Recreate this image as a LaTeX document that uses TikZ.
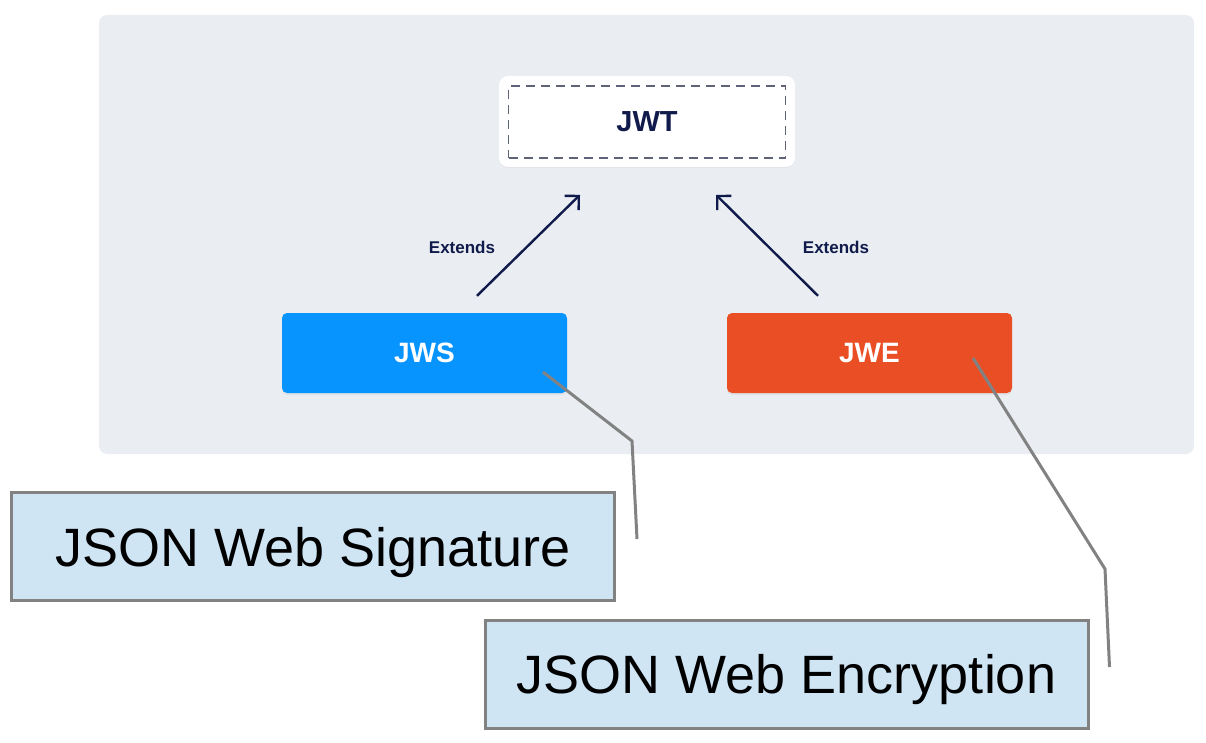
\documentclass[tikz,border=0pt]{standalone}
\usepackage{fontspec}
\setmainfont{Liberation Sans}
\usetikzlibrary{arrows.meta,shadows}

\definecolor{panelgray}{HTML}{EAEEF2}
\definecolor{navy}{HTML}{111B4B}
\definecolor{dashgray}{HTML}{5E6378}
\definecolor{jwsblue}{HTML}{0894FF}
\definecolor{jwered}{HTML}{EA4E25}
\definecolor{noteblue}{HTML}{CFE5F4}
\definecolor{notegray}{HTML}{828282}

\begin{document}
\begin{tikzpicture}[x=1pt,y=-1pt,
  tok/.style={rectangle,rounded corners=5pt,minimum width=285pt,minimum height=80pt,
    text=white,font=\fontsize{28}{30}\selectfont\bfseries,
    drop shadow={opacity=0.10,shadow xshift=0pt,shadow yshift=-2pt}},
  ext/.style={navy,line width=2.4pt,-{Straight Barb[length=10pt,width=20pt]}},
  extlabel/.style={text=navy,font=\fontsize{17}{19}\selectfont\bfseries},
  note/.style={rectangle,draw=notegray,line width=3pt,fill=noteblue,text depth=0pt,
    minimum width=603pt,minimum height=108pt,font=\fontsize{54}{60}\selectfont},
  lead/.style={draw=notegray,line width=3pt}]
\useasboundingbox (0,0) rectangle (1206,743);
\fill [panelgray,rounded corners=8pt] (99,15) rectangle (1194,454);

% top token
\node [rectangle,rounded corners=9pt,fill=white,minimum width=296pt,minimum height=91pt,
  drop shadow={opacity=0.08,shadow xshift=0pt,shadow yshift=-1pt}] (jwtback) at (647,121.5) {};
\node [rectangle,draw=dashgray,dashed,dash pattern=on 9pt off 6pt,line width=1.6pt,
  minimum width=277pt,minimum height=72pt,text=navy,
  font=\fontsize{29}{31}\selectfont\bfseries] (jwt) at (647,122) {JWT};

% the two kinds
\node [tok,fill=jwsblue] (jws) at (424.5,353) {JWS};
\node [tok,fill=jwered] (jwe) at (869.5,353) {JWE};

\draw [ext] ([shift={(52.5,-17)}]jws.north) -- ([shift={(-67,36)}]jwt.south);
\draw [ext] ([shift={(-51.5,-17)}]jwe.north) -- ([shift={(69,36)}]jwt.south);
\node [extlabel] (extl) at (462,247) {Extends};
\node [extlabel] (extr) at (836,247) {Extends};

% callouts
\node [note] (sig) at (313,546.5) {JSON Web Signature};
\node [note] (enc) at (786.5,674) {JSON Web Encryption};

\coordinate (sigbend) at (632,441);
\coordinate (encbend) at (1105,569);
\draw [lead] ([shift={(118.5,19)}]jws.center) -- (sigbend) -- ([shift={(21,-7.5)}]sig.east);
\draw [lead] ([shift={(103.5,5)}]jwe.center) -- (encbend) -- ([shift={(20,-7)}]enc.east);
\end{tikzpicture}
\end{document}
